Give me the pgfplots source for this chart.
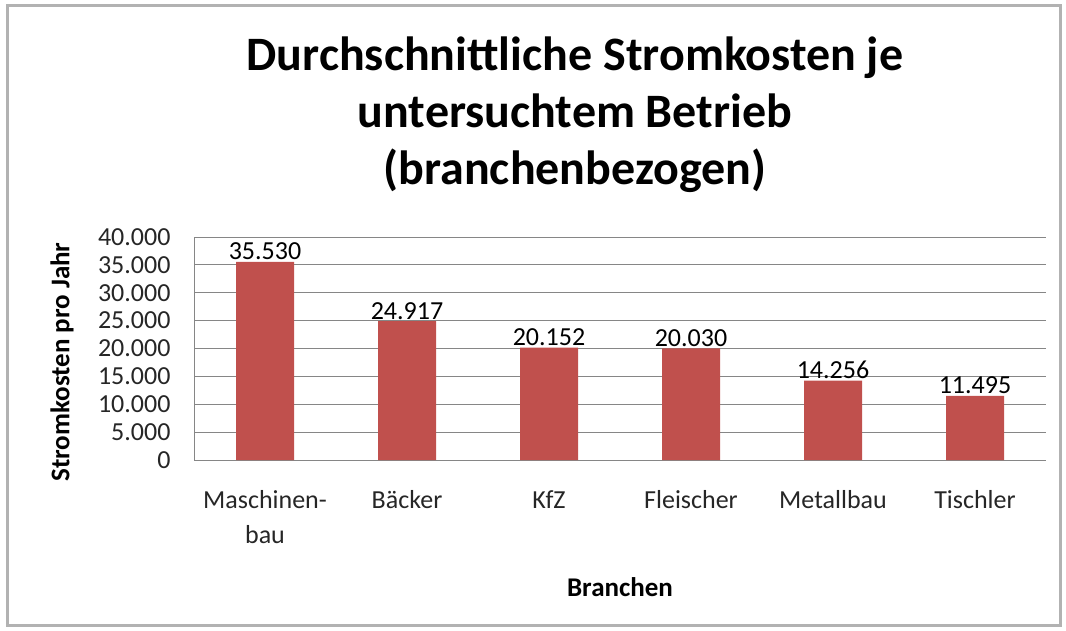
\documentclass[border=0pt]{standalone}
\usepackage{fontspec}
\setmainfont{Carlito}
\usepackage{pgfplots}
\pgfplotsset{compat=1.18}
\definecolor{barred}{HTML}{C0504D}
\definecolor{gridgray}{HTML}{868686}

\begin{document}
\begin{tikzpicture}[x=1pt,y=1pt]
\useasboundingbox (0,0) rectangle (1066,630);
\draw[gray!60,line width=3pt] (7,5) rectangle (1060,624);
% title
\node[anchor=base,font=\fontsize{48}{56}\selectfont\bfseries] at (575,559) {Durchschnittliche Stromkosten je};
\node[anchor=base,font=\fontsize{48}{56}\selectfont\bfseries] at (575,502) {untersuchtem Betrieb};
\node[anchor=base,font=\fontsize{48}{56}\selectfont\bfseries] at (575,445) {(branchenbezogen)};
\begin{axis}[at={(194pt,170pt)},anchor=south west,scale only axis,
  width=852pt,height=223pt,
  ymin=0,ymax=40000,ytick distance=5000,
  xmin=-0.5,xmax=5.5,xtick=data,
  xticklabels={{Maschinen-\\bau},Bäcker,KfZ,Fleischer,Metallbau,Tischler},
  xticklabel style={align=center,yshift=-27pt,font=\fontsize{26}{35}\selectfont,text=black!85},
  yticklabel style={xshift=-20pt,font=\fontsize{26}{28}\selectfont,text=black!85},
  /pgf/number format/.cd,fixed,precision=0,1000 sep={.},assume math mode=true,
  /pgfplots/.cd,
  scaled y ticks=false,
  major tick length=0pt,
  ymajorgrids,grid style={gridgray,line width=1pt},
  axis x line*=bottom,axis y line*=left,
  axis line style={gridgray,line width=1pt,-},
  ybar,bar width=58pt,
  nodes near coords,
  every node near coord/.append style={font=\fontsize{26}{28}\selectfont,anchor=base,yshift=2pt},
]
\addplot[fill=barred,draw=none] coordinates {(0,35530)(1,24917)(2,20152)(3,20030)(4,14256)(5,11495)};
\end{axis}
\node[rotate=90,font=\fontsize{27}{28}\selectfont\bfseries] at (62,268) {Stromkosten pro Jahr};
\node[font=\fontsize{27}{28}\selectfont\bfseries] at (620,43) {Branchen};
\end{tikzpicture}
\end{document}
